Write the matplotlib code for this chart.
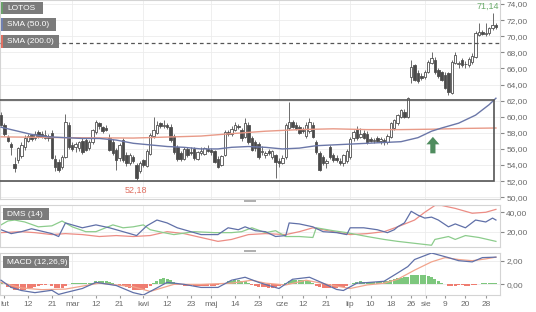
import numpy as np
import matplotlib
matplotlib.use('Agg')
import matplotlib.pyplot as plt
from matplotlib.patches import Rectangle, Polygon
from matplotlib import transforms

plt.rcParams['font.family'] = ['Liberation Sans', 'DejaVu Sans']

# ---------------- data (trading-day index 0 = 31 Jan) ----------------
open_ = [60.2, 59.0, 57.5, 56.6, 54.1, 54.6, 55.1, 56.2, 57.0, 57.7,
         57.3, 58.1, 57.9, 57.4, 57.6, 58.0, 54.8, 54.4, 53.7, 55.0,
         59.0, 56.5, 56.2, 56.1, 57.0, 57.1, 56.1, 56.9, 58.1, 59.2,
         58.7, 58.6, 57.4, 56.9, 55.9, 54.9, 57.1, 55.3, 54.3, 55.0,
         54.0, 53.2, 54.6, 53.9, 55.4, 57.6, 58.0, 59.2, 58.8, 59.0,
         58.7, 57.6, 56.2, 55.5, 54.8, 56.0, 55.6, 56.0, 54.8, 55.5,
         55.4, 56.0, 55.9, 55.7, 54.8, 54.0, 55.3, 58.1, 57.8, 58.4,
         58.8, 58.4, 57.5, 59.0, 57.3, 56.8, 56.6, 55.6, 55.2, 55.7,
         55.0, 55.2, 54.5, 54.3, 55.0, 58.6, 59.4, 59.0, 58.7, 58.4,
         57.6, 58.2, 59.0, 56.9, 55.5, 55.0, 54.2, 56.2, 55.3, 54.9,
         54.5, 54.2, 54.5, 55.0, 57.3, 58.5, 57.5, 58.0, 57.9, 57.2,
         57.0, 57.3, 57.0, 57.1, 56.9, 57.5, 58.6, 59.2, 60.0, 60.6,
         60.0, 64.9, 66.4, 65.4, 65.0, 64.9, 65.6, 66.7, 67.1, 65.8,
         65.5, 65.2, 65.4, 63.0, 66.7, 66.5, 67.0, 66.6, 66.4, 66.8,
         67.4, 70.2, 70.5, 70.3, 70.4, 71.0, 71.4]
high_ = [60.6, 59.2, 57.7, 56.9, 55.0, 56.3, 56.8, 57.7, 57.9, 57.9,
         58.2, 58.4, 58.2, 58.3, 57.9, 58.3, 55.2, 54.8, 55.2, 60.3,
         59.3, 56.9, 56.8, 57.0, 57.3, 57.4, 57.1, 58.5, 59.6, 59.4,
         58.9, 59.0, 57.8, 57.2, 56.1, 56.7, 57.3, 55.6, 55.5, 55.2,
         54.3, 54.5, 54.8, 56.0, 58.0, 60.0, 59.5, 59.4, 59.6, 59.2,
         59.1, 57.9, 56.5, 55.8, 56.3, 56.3, 56.2, 56.3, 55.8, 56.2,
         56.3, 56.5, 56.1, 55.9, 55.1, 55.3, 58.3, 58.4, 58.8, 59.3,
         59.1, 58.6, 59.8, 59.3, 57.6, 57.1, 56.9, 56.4, 55.8, 56.0,
         55.9, 55.4, 54.9, 55.2, 59.2, 61.8, 59.6, 59.3, 59.0, 58.7,
         59.3, 59.9, 59.3, 57.1, 55.8, 55.3, 54.8, 56.5, 55.5, 55.2,
         54.9, 55.4, 56.0, 57.5, 58.4, 58.8, 58.6, 58.3, 58.2, 57.5,
         57.4, 57.6, 57.5, 57.4, 57.8, 59.4, 59.7, 60.4, 61.0, 60.9,
         62.4, 67.0, 66.6, 65.8, 65.4, 65.8, 67.0, 68.0, 67.4, 66.0,
         65.7, 65.5, 65.6, 67.0, 68.0, 66.9, 67.3, 66.9, 67.4, 67.9,
         70.6, 71.6, 70.8, 71.6, 71.2, 72.9, 71.6]
low_ = [58.8, 57.6, 56.8, 55.2, 53.1, 54.3, 54.9, 55.9, 56.8, 57.0,
        57.1, 57.3, 57.3, 57.2, 57.0, 54.7, 53.3, 53.1, 53.5, 54.9,
        56.0, 55.8, 55.6, 55.8, 55.4, 55.7, 55.9, 56.6, 57.9, 58.5,
        58.0, 58.2, 55.7, 55.3, 53.4, 54.5, 54.4, 53.9, 54.0, 54.3,
        52.18, 53.0, 53.7, 53.7, 55.2, 57.4, 57.8, 58.6, 58.6, 58.5,
        56.9, 55.4, 54.5, 54.5, 54.6, 55.0, 55.2, 54.6, 54.6, 55.2,
        55.2, 55.6, 55.3, 54.2, 53.6, 53.9, 55.1, 57.6, 57.6, 58.2,
        58.5, 57.0, 57.3, 56.6, 55.7, 55.8, 54.8, 55.3, 54.9, 55.3,
        54.8, 52.4, 53.8, 54.1, 54.8, 58.4, 58.6, 58.3, 57.8, 58.0,
        57.4, 58.0, 57.3, 55.4, 53.2, 54.0, 53.6, 54.8, 54.4, 54.4,
        54.0, 53.9, 54.3, 54.8, 57.0, 57.1, 57.3, 57.2, 56.6, 56.8,
        56.7, 56.9, 56.6, 56.5, 56.6, 57.3, 58.4, 59.0, 59.8, 59.8,
        59.8, 64.2, 64.4, 64.2, 64.6, 64.7, 65.4, 66.5, 65.3, 64.8,
        64.4, 63.5, 62.7, 62.8, 66.5, 66.0, 66.2, 66.1, 66.2, 66.6,
        67.3, 70.0, 70.1, 70.0, 70.2, 70.8, 70.9]
close_ = [59.0, 57.8, 57.0, 56.2, 53.6, 56.1, 56.5, 57.4, 57.6, 57.2,
          57.9, 57.5, 57.5, 57.7, 57.3, 54.9, 53.7, 53.4, 55.0, 59.3,
          56.2, 56.0, 56.6, 56.9, 55.6, 55.9, 56.9, 58.3, 59.3, 58.8,
          58.2, 58.4, 55.9, 55.5, 54.6, 56.5, 54.6, 54.2, 55.2, 54.5,
          52.4, 54.3, 54.0, 55.8, 57.7, 58.4, 59.0, 58.8, 59.0, 58.7,
          57.1, 55.6, 54.7, 54.8, 56.0, 55.3, 55.5, 54.9, 55.6, 55.8,
          56.1, 55.8, 55.6, 54.4, 53.8, 55.1, 58.1, 57.8, 58.5, 59.0,
          58.7, 57.3, 59.2, 56.8, 55.9, 56.1, 55.0, 55.8, 55.5, 55.5,
          55.8, 54.4, 54.2, 54.9, 59.0, 59.3, 58.7, 58.5, 58.0, 58.2,
          59.0, 59.4, 57.5, 55.6, 53.4, 54.3, 54.5, 55.0, 54.6, 54.6,
          54.3, 55.2, 55.8, 57.2, 58.1, 57.3, 57.8, 57.4, 56.8, 57.0,
          57.1, 57.0, 57.2, 56.9, 57.6, 59.2, 59.6, 60.2, 60.8, 60.0,
          62.3, 66.2, 64.6, 64.5, 64.8, 65.6, 66.8, 67.3, 65.6, 65.0,
          64.6, 63.6, 63.1, 66.8, 67.7, 66.7, 66.4, 66.5, 67.2, 67.6,
          70.4, 70.5, 70.3, 70.4, 71.0, 71.4, 71.14]

sma50_idx = [0, 5, 9, 14, 19, 24, 29, 34, 39, 44, 49, 54, 59, 64, 68, 73, 78, 83,
             88, 93, 98, 103, 108, 113, 118, 123, 127, 130, 135, 140, 144, 146]
sma50_val = [58.7, 58.2, 57.8, 57.5, 57.4, 57.3, 57.3, 57.1, 56.7, 56.5, 56.3, 56.2,
             56.0, 56.0, 56.2, 56.3, 56.2, 56.0, 56.1, 56.4, 56.5, 56.6, 56.7, 56.8,
             56.9, 57.4, 58.2, 58.6, 59.2, 60.2, 61.5, 62.3]
sma200_idx = [0, 19, 39, 59, 68, 78, 88, 98, 108, 118, 127, 137, 146]
sma200_val = [57.5, 57.4, 57.35, 57.6, 57.9, 58.2, 58.4, 58.5, 58.4, 58.4, 58.45, 58.55, 58.6]

dip_idx = [0, 3, 6, 9, 15, 17, 19, 24, 28, 32, 37, 40, 43, 46, 49, 52, 59, 64, 67, 70,
           72, 75, 78, 81, 84, 85, 88, 92, 95, 99, 102, 103, 107, 111, 114, 116, 117, 119,
           121, 123, 125, 127, 129, 132, 134, 137, 140, 143, 145, 146]
dip_val = [22, 18, 20, 23, 18, 15, 29, 24, 27, 24, 19, 16, 26, 32, 29, 24, 17, 17, 24, 22,
           25, 21, 20, 15, 16, 29, 28, 25, 20, 19, 17, 24, 24, 22, 19, 22, 25, 29,
           41, 37, 34, 35, 32, 25, 28, 24, 32, 30, 34, 32]
dim_idx = [0, 2, 4, 7, 11, 15, 18, 21, 25, 28, 33, 36, 39, 42, 44, 48, 51, 57, 63, 68,
           71, 74, 78, 81, 84, 88, 92, 93, 98, 102, 108, 113, 117, 122, 127, 128, 132,
           134, 137, 141, 146]
dim_val = [27, 31, 32, 30, 25, 26, 31, 25, 20, 20, 27, 24, 25, 27, 22, 19, 17, 20, 19, 19,
           20, 24, 19, 21, 15, 15, 14, 24, 21, 19, 15, 12, 10, 8, 6, 12, 15,
           12, 16, 14, 10]
adx_idx = [0, 6, 10, 15, 19, 24, 29, 34, 39, 44, 49, 54, 59, 64, 68, 73, 78, 84, 88, 92,
           98, 103, 108, 113, 117, 122, 125, 128, 130, 134, 139, 143, 146]
adx_val = [19, 20, 19, 17, 18, 17, 15, 16, 15, 16, 20, 18, 14, 10, 12, 17, 18, 17, 20, 24,
           20, 17, 18, 20, 25, 32, 40, 47, 47, 44, 39, 40, 43]

macd_idx = [0, 3, 6, 10, 15, 17, 19, 24, 28, 34, 39, 42, 46, 49, 54, 59, 64, 68, 72, 76,
            79, 82, 86, 91, 95, 99, 101, 105, 108, 113, 117, 120, 122, 127, 132, 135, 139,
            142, 146]
macd_val = [0.35, -0.26, -0.52, -0.7, -0.5, -0.85, -0.7, -0.35, 0.17, -0.1, -0.7, -0.9,
            -0.3, 0.17, 0.0, -0.26, -0.26, 0.35, 0.6, 0.17, -0.1, -0.35, 0.43, 0.6, 0.1,
            -0.43, -0.52, 0.1, 0.15, 0.26, 0.96, 1.5, 2.1, 2.65, 2.26, 2.0, 1.9, 2.26, 2.3]
signal_idx = [0, 6, 12, 19, 29, 39, 44, 51, 59, 68, 74, 78, 84, 90, 98, 103, 108, 113,
              117, 122, 127, 131, 135, 139, 143, 146]
signal_val = [0.17, -0.3, -0.45, -0.4, 0.1, -0.2, -0.6, 0.0, 0.0, 0.1, 0.35, 0.1, -0.05,
              0.35, -0.1, -0.35, -0.05, 0.1, 0.43, 1.2, 1.9, 2.26, 2.1, 2.0, 2.15, 2.3]
hist_val = ([0.15, 0.05]
            + [-0.2, -0.35, -0.5, -0.5, -0.5, -0.45, -0.4, -0.3, -0.25, -0.15, -0.05]
            + [-0.02, 0.0] + [-0.15, -0.3, -0.35, -0.3] + [-0.1]
            + [0.05, 0.08, 0.1, 0.1, 0.1, 0.1, 0.12, 0.15]
            + [0.25, 0.3, 0.3, 0.25, 0.2] + [0.1, 0.03, -0.05]
            + [-0.15, -0.25, -0.35, -0.45, -0.5, -0.5, -0.45, -0.35, -0.15]
            + [0.1, 0.3, 0.45, 0.5, 0.45, 0.35, 0.2] + [0.05]
            + [-0.05, -0.1, -0.15, -0.15, -0.15, -0.15, -0.12, -0.1, -0.1, -0.12, -0.1, -0.05]
            + [0.02] + [0.15, 0.25, 0.3, 0.35, 0.35, 0.3, 0.25, 0.15]
            + [-0.05, -0.15, -0.2, -0.2, -0.25, -0.3, -0.3, -0.25] + [-0.15, 0.0]
            + [0.15, 0.3, 0.35, 0.35, 0.35, 0.35, 0.3, 0.25, 0.15]
            + [-0.1, -0.25, -0.35, -0.35, -0.35, -0.3, -0.3, -0.25, -0.2, -0.1] + [0.05]
            + [0.15, 0.2, 0.25, 0.2, 0.2, 0.2, 0.2, 0.2, 0.2, 0.25]
            + [0.3, 0.35, 0.45, 0.5, 0.55, 0.6, 0.65, 0.75, 0.8, 0.8, 0.8, 0.75, 0.7, 0.6,
               0.45, 0.3, 0.15]
            + [0.0] + [-0.1, -0.15, -0.1] + [-0.02] + [-0.08, -0.1, -0.1, -0.08, -0.05]
            + [0.05, 0.1, 0.15, 0.15, 0.15, 0.12])

xtick_pos = [1, 8, 15, 21, 28, 35, 42, 49, 56, 62, 69, 76, 83, 89, 96, 103, 109, 115,
             121, 125.5, 131, 137, 143]
xtick_lab = ['lut', '12', '21', 'mar', '12', '21', 'kwi', '12', '23', 'maj', '14', '23',
             'cze', '12', '21', 'lip', '10', '18', '26', 'sie', '9', '20', '28']
month_pos = [21, 42, 62, 82, 103, 125]
price_ticks = [50, 52, 54, 56, 58, 60, 62, 64, 66, 68, 70, 72, 74]
dms_ticks = [20, 40]
macd_ticks = [0, 2]
resistance = 69.15
box_low, box_high = 52.0, 62.07
max_label, min_label = '71,14', '52,18'

# ---------------- figure ----------------
W, H = 536, 312
fig = plt.figure(figsize=(W / 100, H / 100), dpi=100)
fig.patch.set_facecolor('white')


def fx(x):
    return x / W


def fy(y):
    return 1 - y / H


ax = fig.add_axes([0, fy(199), fx(500), 199 / H])
ax_d = fig.add_axes([0, fy(247), fx(500), 42 / H])
ax_m = fig.add_axes([0, fy(295), fx(500), 42 / H])

XL = (-0.3, 147.2)
GRID = '#ececec'
TXT = '#6a6a6a'


def fmt(v):
    return f"{v:.2f}".replace('.', ',')


for a in (ax, ax_d, ax_m):
    a.set_xlim(*XL)
    for s in a.spines.values():
        s.set_color('#d4d4d4')
        s.set_linewidth(0.8)
    a.yaxis.tick_right()
    a.tick_params(axis='y', direction='out', length=3, pad=1.5, labelsize=6,
                  colors='#888', labelcolor=TXT)
    a.tick_params(axis='x', bottom=False, labelbottom=False)
    for m in month_pos:
        a.axvline(m, color=GRID, lw=0.6, zorder=0)

# ---- main price panel ----
o = np.array(open_); h = np.array(high_); l = np.array(low_); c = np.array(close_)
idx = np.arange(len(c))
ax.set_ylim(49.78, 74.5)
ax.set_yticks(price_ticks)
ax.set_yticklabels([fmt(v) for v in price_ticks])
for v in price_ticks:
    ax.axhline(v, color=GRID, lw=0.6, zorder=0)

ax.vlines(idx, l, h, color='#555555', lw=0.6, zorder=2)
up = c >= o
bot = np.minimum(o, c)
hgt = np.maximum(np.abs(c - o), 0.06)
ax.bar(idx, hgt, bottom=bot, width=0.72,
       color=np.where(up, 'white', '#4a4a4a'), edgecolor='#505050', linewidth=0.6, zorder=3)

ax.plot(sma200_idx, sma200_val, color='#e89a88', lw=1.0, zorder=4)
ax.plot(sma50_idx, sma50_val, color='#6b77a8', lw=1.0, zorder=4)

ax.axhline(resistance, color='#555555', lw=0.9, ls=(0, (3, 2.5)), zorder=4)
ax.add_patch(Rectangle((-3, box_low), 145.4 + 3, box_high - box_low, fill=False,
                       edgecolor='#555555', lw=1.2, zorder=4))

# green arrow (polygon in pixel offsets anchored at a data point)
tr = fig.dpi_scale_trans + transforms.ScaledTranslation(127.4, 57.5, ax.transData)
arrow = np.array([[0, 0], [6.5, -7.5], [2.6, -7.5], [2.6, -16.5], [-2.6, -16.5],
                  [-2.6, -7.5], [-6.5, -7.5]]) / 100.0
ax.add_patch(Polygon(arrow, closed=True, transform=tr, facecolor='#4f8c5e',
                     edgecolor='none', zorder=5))

ax.text(143.6, 73.75, max_label, color='#6aaa6a', fontsize=6.5, ha='center', va='center')
ax.text(39.8, 50.9, min_label, color='#e07062', fontsize=6.5, ha='center', va='center')

# ---- DMS panel ----
ax_d.set_ylim(4.2, 47.5)
ax_d.set_yticks(dms_ticks)
ax_d.set_yticklabels([fmt(v) for v in dms_ticks])
for v in dms_ticks:
    ax_d.axhline(v, color=GRID, lw=0.6, zorder=0)
ax_d.plot(adx_idx, adx_val, color='#ec8c84', lw=0.9)
ax_d.plot(dim_idx, dim_val, color='#8ccc8c', lw=0.9)
ax_d.plot(dip_idx, dip_val, color='#6070a8', lw=0.9)

# ---- MACD panel ----
ax_m.set_ylim(-0.9, 2.65)
ax_m.set_yticks(macd_ticks)
ax_m.set_yticklabels([fmt(v) for v in macd_ticks])
for v in macd_ticks:
    ax_m.axhline(v, color=GRID, lw=0.6, zorder=0)
hv = np.array(hist_val)
hi = np.arange(len(hv))
ax_m.bar(hi, hv, width=0.9, color=np.where(hv >= 0, '#7dc77d', '#ef7c70'),
         edgecolor='none', zorder=2)
ax_m.plot(signal_idx, signal_val, color='#f2a48c', lw=0.9, zorder=3)
ax_m.plot(macd_idx, macd_val, color='#6070a8', lw=0.9, zorder=4)
ax_m.set_xticks(xtick_pos)
ax_m.set_xticklabels(xtick_lab)
ax_m.tick_params(axis='x', bottom=True, labelbottom=True, length=2, pad=2.5,
                 labelsize=6, colors='#999', labelcolor=TXT)


# ---- legend-like label boxes ----
def label_box(x0, y0, x1, y1, text, stripe=None):
    fig.add_artist(Rectangle((fx(x0), fy(y1)), (x1 - x0) / W, (y1 - y0) / H,
                             transform=fig.transFigure, facecolor='#7b7b7b',
                             edgecolor='none', zorder=10))
    if stripe:
        fig.add_artist(Rectangle((fx(x0 - 2), fy(y1)), 2 / W, (y1 - y0) / H,
                                 transform=fig.transFigure, facecolor=stripe,
                                 edgecolor='none', zorder=10))
    fig.text(fx(x0 + 4), fy((y0 + y1) / 2 + 0.3), text, color='white', fontsize=6,
             ha='left', va='center', zorder=11)


label_box(3, 2, 43, 14, 'LOTOS', '#6aa06a')
label_box(3, 18, 56, 31, 'SMA (50.0)', '#7080b0')
label_box(3, 35, 59, 48, 'SMA (200.0)', '#e07062')
label_box(3, 208, 49, 220, 'DMS (14)')
label_box(3, 256, 69, 268, 'MACD (12,26,9)')

# panel resize handles
for yy in (200, 249.5):
    fig.add_artist(Rectangle((fx(244), fy(yy + 2)), 12 / W, 2 / H, transform=fig.transFigure,
                             facecolor='#b0b0b0', edgecolor='none', zorder=10))

fig.savefig('out.png', dpi=100, facecolor='white')
